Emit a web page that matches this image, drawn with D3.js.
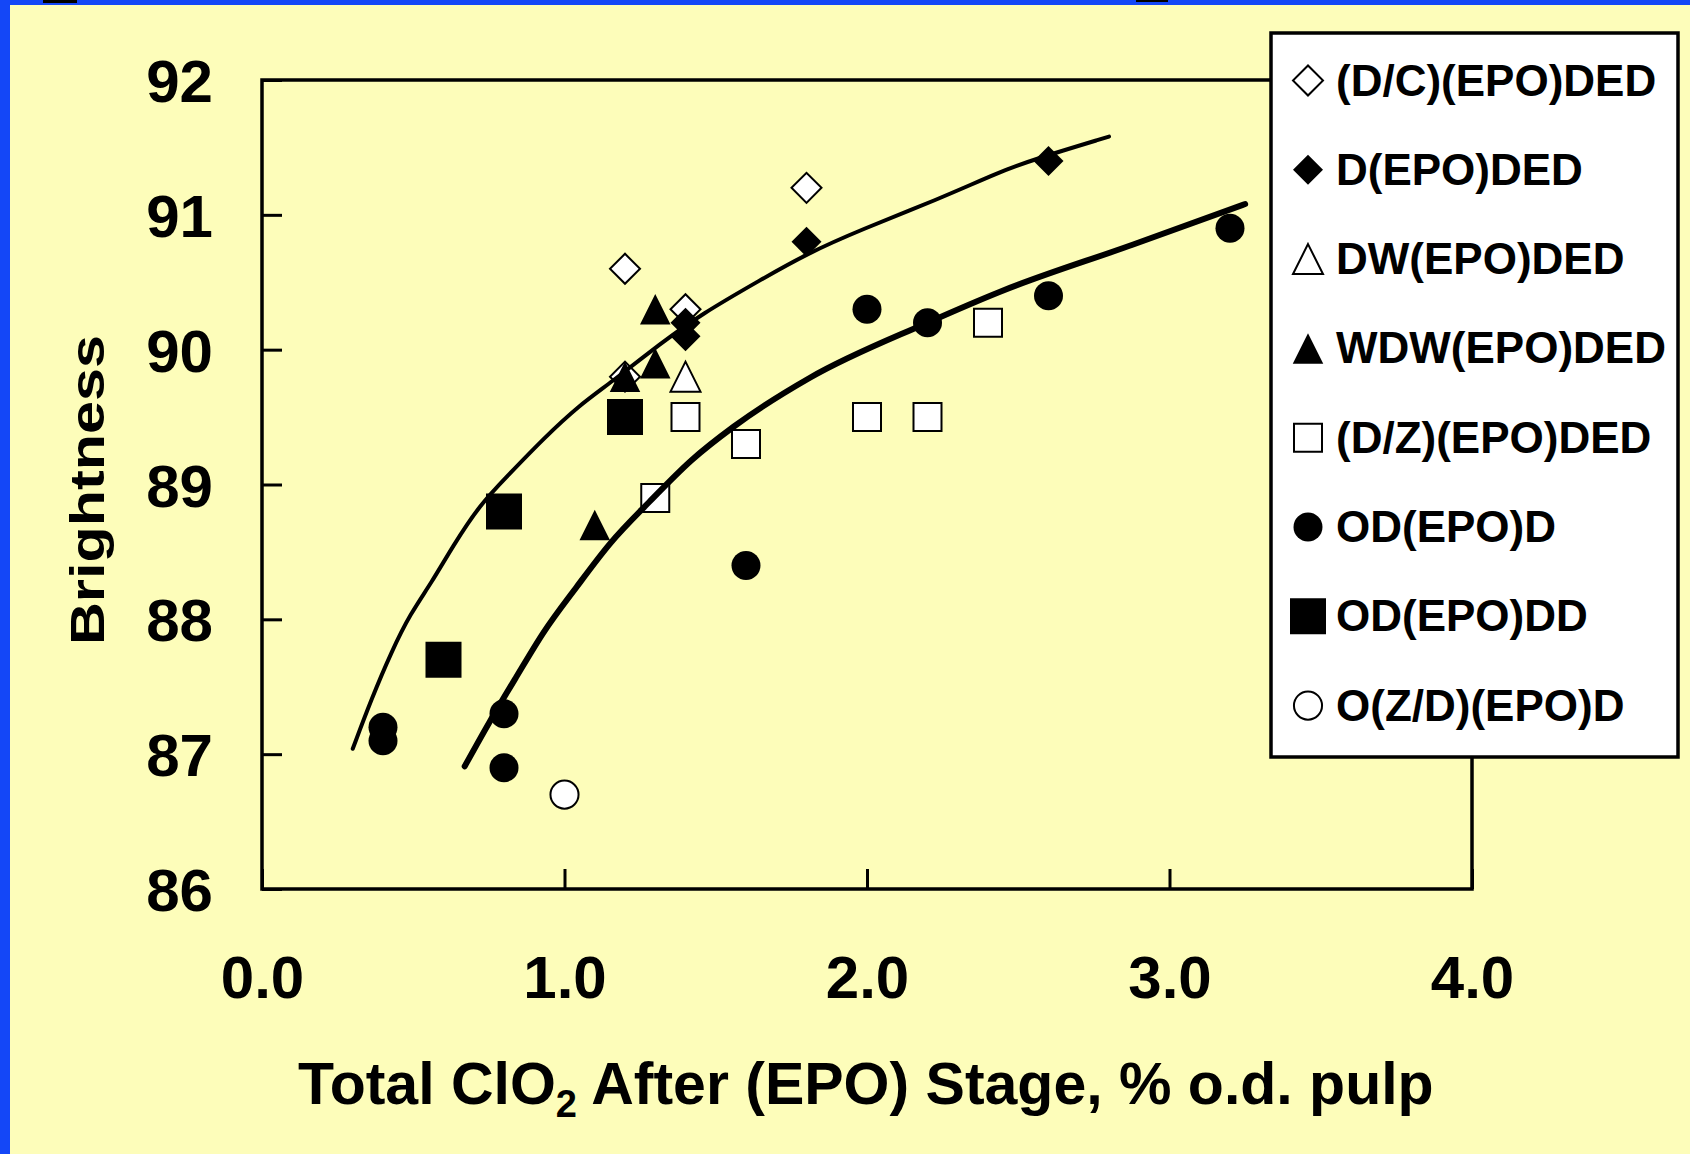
<!DOCTYPE html>
<meta charset='utf-8'>
<head>
<script src='https://d3js.org/d3.v7.min.js'></script>
<style>
  body{ margin:0; background:#FDFDBA; }
  svg{ display:block; }
  text{ font-family:'Liberation Sans', Arial, sans-serif; font-weight:bold; fill:#000; }
</style>
</head>
<body>
<svg id="chart"></svg>
<script>
// ---- data ----
var seriesNames = ['(D/C)(EPO)DED', 'D(EPO)DED', 'DW(EPO)DED', 'WDW(EPO)DED',
                   '(D/Z)(EPO)DED', 'OD(EPO)D', 'OD(EPO)DD', 'O(Z/D)(EPO)D'];

var dcX  = [1.2, 1.2, 1.4, 1.8],             dcY  = [90.6, 89.8, 90.3, 91.2];
var dX   = [1.4, 1.4, 1.8, 2.6],             dY   = [90.2, 90.1, 90.8, 91.4];
var dwX  = [1.4],                            dwY  = [89.8];
var wdwX = [1.3, 1.3, 1.2, 1.1],             wdwY = [90.3, 89.9, 89.8, 88.7];
var dzX  = [1.3, 1.4, 1.6, 2.0, 2.2, 2.4],   dzY  = [88.9, 89.5, 89.3, 89.5, 89.5, 90.2];
var odX  = [0.4, 0.4, 0.8, 0.8, 1.6, 2.0, 2.2, 2.6, 3.2];
var odY  = [87.2, 87.1, 87.3, 86.9, 88.4, 90.3, 90.2, 90.4, 90.9];
var oddX = [0.6, 0.8, 1.2],                  oddY = [87.7, 88.8, 89.5];
var ozX  = [1.0],                            ozY  = [86.7];

// fitted trend lines
var upperX = [0.30, 0.36, 0.43, 0.49, 0.56, 0.63, 0.72, 0.81, 0.93, 1.05, 1.15, 1.32, 1.45, 1.65, 1.80, 1.98, 2.23, 2.44, 2.55, 2.80];
var upperY = [87.04, 87.40, 87.77, 88.04, 88.27, 88.54, 88.85, 89.06, 89.34, 89.59, 89.75, 90.05, 90.26, 90.52, 90.71, 90.89, 91.11, 91.32, 91.41, 91.58];
var lowerX = [0.67, 0.75, 0.84, 0.93, 1.04, 1.15, 1.28, 1.42, 1.56, 1.81, 2.20, 2.44, 2.88, 3.25];
var lowerY = [86.91, 87.23, 87.57, 87.90, 88.24, 88.56, 88.87, 89.18, 89.43, 89.79, 90.20, 90.43, 90.78, 91.08];

var xTicks = [0, 1, 2, 3, 4];
var yTicks = [86, 87, 88, 89, 90, 91, 92];

// ---- layout ----
var width = 1690, height = 1154;
var plot = {left: 262, right: 1472, top: 80, bottom: 889};

var svg = d3.select('#chart').attr('width', width).attr('height', height);

svg.append('rect').attr('width', width).attr('height', height).attr('fill', '#FDFDBA');
// slide border bits
svg.append('rect').attr('x', 0).attr('y', 0).attr('width', 10).attr('height', height).attr('fill', '#1447F7');
svg.append('rect').attr('x', 0).attr('y', 0).attr('width', width).attr('height', 5).attr('fill', '#1447F7');
svg.append('rect').attr('x', 43).attr('y', 0).attr('width', 34).attr('height', 3).attr('fill', '#000');
svg.append('rect').attr('x', 1136).attr('y', 0).attr('width', 32).attr('height', 2).attr('fill', '#000');

var x = d3.scaleLinear().domain([0, 4]).range([plot.left, plot.right]);
var y = d3.scaleLinear().domain([86, 92]).range([plot.bottom, plot.top]);

// marker shapes
var triangleUp = {
  draw: function(ctx, size) {
    var h = Math.sqrt(size);
    ctx.moveTo(0, -h / 2); ctx.lineTo(h / 2, h / 2); ctx.lineTo(-h / 2, h / 2); ctx.closePath();
  }
};
var styles = [
  {type: d3.symbolSquare, size: 450,  rot: 45, fill: '#fff'},
  {type: d3.symbolSquare, size: 450,  rot: 45, fill: '#000'},
  {type: triangleUp,      size: 900,  rot: 0,  fill: '#fff'},
  {type: triangleUp,      size: 930,  rot: 0,  fill: '#000'},
  {type: d3.symbolSquare, size: 784,  rot: 0,  fill: '#fff'},
  {type: d3.symbolCircle, size: 660,  rot: 0,  fill: '#000'},
  {type: d3.symbolSquare, size: 1296, rot: 0,  fill: '#000'},
  {type: d3.symbolCircle, size: 620,  rot: 0,  fill: '#fff'}
];
var seriesX = [dcX, dX, dwX, wdwX, dzX, odX, oddX, ozX];
var seriesY = [dcY, dY, dwY, wdwY, dzY, odY, oddY, ozY];

var series = seriesNames.map(function(name, i) {
  return {name: name, style: styles[i],
          points: seriesX[i].map(function(v, j) { return {x: v, y: seriesY[i][j]}; })};
});

// frame
svg.append('rect')
  .attr('x', plot.left).attr('y', plot.top)
  .attr('width', plot.right - plot.left).attr('height', plot.bottom - plot.top)
  .attr('fill', 'none').attr('stroke', '#000').attr('stroke-width', 3.5);

// axes with inward ticks
var xAxis = svg.append('g')
  .attr('transform', 'translate(0,' + plot.bottom + ')')
  .call(d3.axisBottom(x).tickValues(xTicks).tickSize(-20).tickPadding(66).tickFormat(d3.format('.1f')));
var yAxis = svg.append('g')
  .attr('transform', 'translate(' + plot.left + ',0)')
  .call(d3.axisLeft(y).tickValues(yTicks).tickSize(-20).tickPadding(49).tickFormat(d3.format('d')));

[xAxis, yAxis].forEach(function(a) {
  a.select('.domain').remove();
  a.selectAll('.tick line').attr('stroke', '#000').attr('stroke-width', 3);
  a.selectAll('.tick text').attr('font-size', 60).attr('font-family', null).attr('fill', '#000');
});
yAxis.selectAll('.tick text').attr('dy', '0.36em');

// markers
var symbolPath = function(st) { return d3.symbol().type(st.type).size(st.size)(); };

series.forEach(function(s) {
  svg.append('g').selectAll('path')
    .data(s.points)
    .enter().append('path')
    .attr('d', symbolPath(s.style))
    .attr('transform', function(d) { return 'translate(' + x(d.x) + ',' + y(d.y) + ') rotate(' + s.style.rot + ')'; })
    .attr('fill', s.style.fill)
    .attr('stroke', '#000')
    .attr('stroke-width', s.style.fill === '#fff' ? 2 : 0);
});

// trend lines
var smoothLine = d3.line()
  .x(function(d) { return x(d.x); })
  .y(function(d) { return y(d.y); })
  .curve(d3.curveBasis);

var line = d3.line()
  .x(function(d) { return x(d.x); })
  .y(function(d) { return y(d.y); })
  .curve(d3.curveMonotoneX);

svg.append('path')
  .datum(upperX.map(function(v, i) { return {x: v, y: upperY[i]}; }))
  .attr('d', smoothLine)
  .attr('fill', 'none').attr('stroke', '#000').attr('stroke-width', 4).attr('stroke-linecap', 'round');

svg.append('path')
  .datum(lowerX.map(function(v, i) { return {x: v, y: lowerY[i]}; }))
  .attr('d', line)
  .attr('fill', 'none').attr('stroke', '#000').attr('stroke-width', 6).attr('stroke-linecap', 'round');

// axis titles
var xTitle = svg.append('text')
  .attr('x', 298).attr('y', 1104)
  .attr('font-size', 59);
xTitle.append('tspan').text('Total ClO');
xTitle.append('tspan').attr('font-size', 38).attr('dy', 13).text('2');
xTitle.append('tspan').attr('dy', -13).text(' After (EPO) Stage, % o.d. pulp');

svg.append('text')
  .attr('transform', 'translate(104,490) rotate(-90)')
  .attr('text-anchor', 'middle')
  .attr('font-size', 49)
  .attr('textLength', 310)
  .attr('lengthAdjust', 'spacingAndGlyphs')
  .text('Brightness');

// legend
var legend = svg.append('g');
legend.append('rect')
  .attr('x', 1271).attr('y', 33).attr('width', 407).attr('height', 724)
  .attr('fill', '#fff').attr('stroke', '#000').attr('stroke-width', 3.5);

var rows = legend.selectAll('.row')
  .data(series)
  .enter().append('g')
  .attr('class', 'row')
  .attr('transform', function(d, i) { return 'translate(1308,' + (80.5 + i * 89.3) + ')'; });

rows.append('path')
  .attr('d', function(d) { return symbolPath(d.style); })
  .attr('transform', function(d) { return 'rotate(' + d.style.rot + ')'; })
  .attr('fill', function(d) { return d.style.fill; })
  .attr('stroke', '#000')
  .attr('stroke-width', function(d) { return d.style.fill === '#fff' ? 2 : 0; });

rows.append('text')
  .attr('x', 28).attr('y', 15)
  .attr('font-size', 44)
  .text(function(d) { return d.name; });
</script>
</body>
</html>
